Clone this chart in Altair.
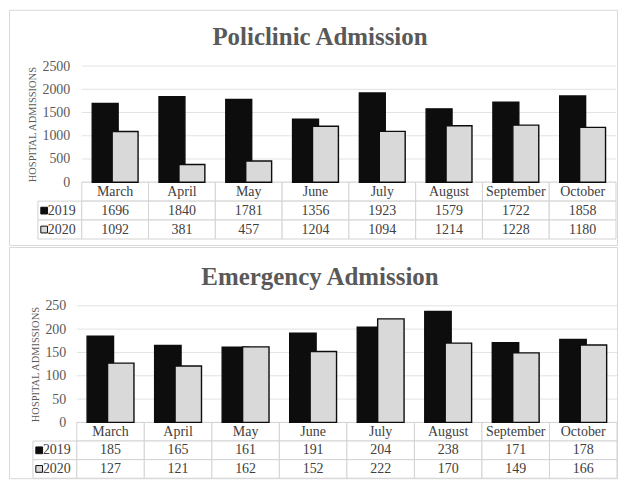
import altair as alt
import pandas as pd

# ---------------- data ----------------
months = ["March", "April", "May", "June", "July", "August", "September", "October"]
years = ["2019", "2020"]
poli_2019 = [1696, 1840, 1781, 1356, 1923, 1579, 1722, 1858]
poli_2020 = [1092, 381, 457, 1204, 1094, 1214, 1228, 1180]
emer_2019 = [185, 165, 161, 191, 204, 238, 171, 178]
emer_2020 = [127, 121, 162, 152, 222, 170, 149, 166]
poli_ticks = [0, 500, 1000, 1500, 2000, 2500]
emer_ticks = [0, 50, 100, 150, 200, 250]
panel_titles = ["Policlinic Admission", "Emergency Admission"]
y_title = "HOSPITAL ADMISSIONS"

# ---------------- style ----------------
SERIF = "Liberation Serif"
FILLS = ["#0d0d0d", "#d9d9d9"]
GRID = "#e3e3e3"
CELL = "#d3d3d3"
TXT = "#404040"
AX = "#595959"
W = 610


def panel(title, v19, v20, ticks, g):
    n = len(months)
    unit = (g["x1"] - g["x0"]) / n
    xs = alt.Scale(domain=[0, n], range=[g["x0"], g["x1"]], nice=False, zero=False)
    ys = alt.Scale(domain=[ticks[0], ticks[-1]], range=[g["y0"], g["yT"]], nice=False, zero=False)
    ts = alt.Scale(domain=[0, 3], range=[g["y0"], g["tb"]], nice=False, zero=False)
    fs = alt.Scale(domain=years, range=FILLS)
    legw = g["legw"] / unit
    shift = g["shift"] / unit
    half = g["half"] / unit

    yaxis = alt.Axis(
        values=ticks, format="d", ticks=False, tickSize=0, domain=False, grid=False,
        labelPadding=0, offset=-g["lab"], labelFont=SERIF, labelFontSize=14,
        labelColor=AX, title=y_title, titleFont=SERIF, titleFontSize=10.5,
        titleFontWeight="normal", titleColor=AX, titlePadding=4,
    )

    grid_df = pd.DataFrame({"v": ticks, "a": 0, "b": n})
    grid = alt.Chart(grid_df).mark_rule(color=GRID, strokeWidth=1).encode(
        x=alt.X("a:Q", scale=xs, axis=None), x2="b:Q",
        y=alt.Y("v:Q", scale=ys, axis=yaxis),
    )

    rows = []
    for yi, (yr, vals) in enumerate(zip(years, [v19, v20])):
        for i, m in enumerate(months):
            c = i + 0.5 + (shift if yi else -shift)
            rows.append({"year": yr, "m": m, "v": vals[i], "z": 0, "x0": c - half, "x1": c + half})
    bar_df = pd.DataFrame(rows)
    bars = alt.Chart(bar_df).mark_rect(stroke="#0d0d0d", strokeWidth=1.4).encode(
        x=alt.X("x0:Q", scale=xs, axis=None), x2="x1:Q",
        y=alt.Y("v:Q", scale=ys, axis=None), y2="z:Q",
        fill=alt.Fill("year:N", scale=fs, legend=None),
    )

    cells = []
    for i in range(n):
        cells.append({"c0": i, "c1": i + 1, "r0": 0, "r1": 1})
    for r in (1, 2):
        cells.append({"c0": -legw, "c1": 0, "r0": r, "r1": r + 1})
        for i in range(n):
            cells.append({"c0": i, "c1": i + 1, "r0": r, "r1": r + 1})
    cell_df = pd.DataFrame(cells)
    table = alt.Chart(cell_df).mark_rect(fill="white", stroke=CELL, strokeWidth=1).encode(
        x=alt.X("c0:Q", scale=xs, axis=None), x2="c1:Q",
        y=alt.Y("r0:Q", scale=ts, axis=None), y2="r1:Q",
    )

    trows = []
    for i, m in enumerate(months):
        trows.append({"x": i + 0.5, "r": 0.5, "t": m})
        trows.append({"x": i + 0.5, "r": 1.5, "t": str(v19[i])})
        trows.append({"x": i + 0.5, "r": 2.5, "t": str(v20[i])})
    text_df = pd.DataFrame(trows)
    texts = alt.Chart(text_df).mark_text(
        font=SERIF, fontSize=14, color=TXT, baseline="middle", align="center"
    ).encode(
        x=alt.X("x:Q", scale=xs, axis=None),
        y=alt.Y("r:Q", scale=ts, axis=None),
        text="t:N",
    )

    leg_df = pd.DataFrame({"year": years, "x": [-legw, -legw], "r": [1.5, 2.5]})
    squares = alt.Chart(leg_df).mark_square(
        size=46, opacity=1, xOffset=g["sq_dx"], stroke="#0d0d0d", strokeWidth=1
    ).encode(
        x=alt.X("x:Q", scale=xs, axis=None),
        y=alt.Y("r:Q", scale=ts, axis=None),
        fill=alt.Fill("year:N", scale=fs, legend=None),
    )
    ylabels = alt.Chart(leg_df).mark_text(
        font=SERIF, fontSize=14, color=TXT, baseline="middle", align="left", dx=g["tx_dx"]
    ).encode(
        x=alt.X("x:Q", scale=xs, axis=None),
        y=alt.Y("r:Q", scale=ts, axis=None),
        text="year:N",
    )

    return alt.layer(grid, table, bars, texts, squares, ylabels).resolve_scale(
        y="independent"
    ).properties(
        width=W, height=g["H"],
        title=alt.TitleParams(
            text=title, font=SERIF, fontSize=25, fontWeight="bold", color=AX,
            anchor="middle", frame="group", baseline="alphabetic",
            offset=-g["toff"], dx=g["tdx"],
        ),
    )


g1 = dict(x0=73, x1=609, y0=173, yT=56.5, tb=230, legw=44, shift=10, half=13,
          lab=61, toff=60, tdx=7, H=236, sq_dx=6.3, tx_dx=10)
g2 = dict(x0=68, x1=610, y0=176, yT=59, tb=232, legw=44, shift=10.25, half=13.25,
          lab=57, toff=63, tdx=7, H=232, sq_dx=6.3, tx_dx=10)

p1 = panel(panel_titles[0], poli_2019, poli_2020, poli_ticks, g1)
p2 = panel(panel_titles[1], emer_2019, emer_2020, emer_ticks, g2)

chart = alt.vconcat(p1, p2, spacing=0).properties(padding=0).configure_view(
    stroke="#d9d9d9", strokeWidth=1
)

chart.save("out.html", embed_options={"renderer": "svg", "actions": False})
